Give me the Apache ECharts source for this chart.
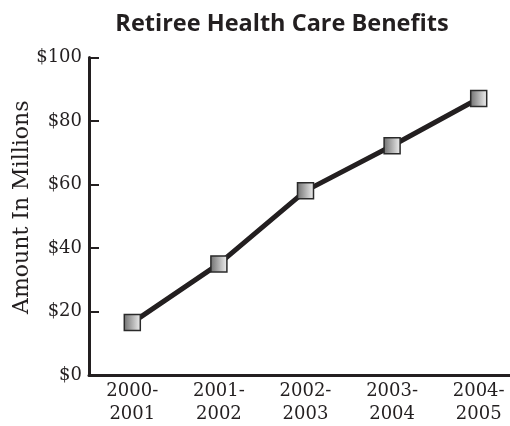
<!DOCTYPE html>
<html><head><meta charset="utf-8">
<script src="https://cdn.jsdelivr.net/npm/echarts@6/dist/echarts.min.js"></script>
<style>html,body{margin:0;padding:0;background:#fff}#c{width:510px;height:426px}</style>
</head><body><div id="c"></div>
<script>
const categories = ['2000-\n2001', '2001-\n2002', '2002-\n2003', '2003-\n2004', '2004-\n2005'];
const values = [16.5, 35.0, 58.0, 72.2, 87.1];
const yTicks = ['$0', '$20', '$40', '$60', '$80', '$100'];
const titleText = 'Retiree Health Care Benefits';
const yName = 'Amount In Millions';

const ink = '#231f20';
const chart = echarts.init(document.getElementById('c'));
chart.setOption({
  animation: false,
  title: {
    text: titleText, left: 277, top: 7, textAlign: 'center',
    textStyle: { fontFamily: 'Open Sans', fontWeight: 'bold', fontSize: 23.5, color: ink }
  },
  grid: { left: 89, top: 57.5, bottom: 51, right: -12, containLabel: false, outerBoundsMode: 'none' },
  xAxis: {
    type: 'category', data: categories, boundaryGap: true,
    axisLine: { lineStyle: { color: ink, width: 3 } },
    axisTick: { inside: true, length: 7, lineStyle: { color: ink, width: 2 } },
    axisLabel: { fontFamily: 'DejaVu Serif', fontSize: 18, color: ink, lineHeight: 23, margin: 5 }
  },
  yAxis: {
    type: 'value', min: 0, max: 100, interval: 20,
    name: yName, nameLocation: 'middle', nameGap: 56, nameMoveOverlap: false,
    nameTextStyle: { fontFamily: 'DejaVu Serif', fontSize: 22, color: ink, padding: [0, 0, 0, 18] },
    splitLine: { show: false },
    axisLine: { show: true, lineStyle: { color: ink, width: 3 } },
    axisTick: { show: true, inside: true, length: 10, lineStyle: { color: ink, width: 2 } },
    axisLabel: { fontFamily: 'DejaVu Serif', fontSize: 18, color: ink, margin: 7,
      formatter: (v) => yTicks[Math.round(v / 20)] }
  },
  series: [{
    type: 'line', data: values,
    lineStyle: { color: ink, width: 5 },
    symbol: 'rect', symbolSize: 16,
    itemStyle: {
      color: new echarts.graphic.LinearGradient(0, 0, 1, 0, [
        { offset: 0, color: '#6e6e6e' }, { offset: 1, color: '#f2f2f2' }
      ]),
      borderColor: '#2a2a2a', borderWidth: 1.5
    }
  }]
});
</script></body></html>
